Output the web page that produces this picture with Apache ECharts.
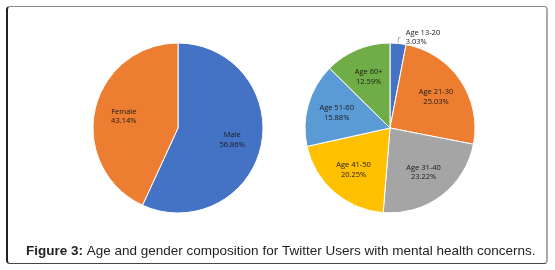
<!DOCTYPE html>
<html>
<head>
<meta charset="utf-8">
<script src="https://cdn.jsdelivr.net/npm/echarts@6/dist/echarts.min.js"></script>
<style>
  html, body { margin: 0; padding: 0; background: #fff; }
  #wrap { position: relative; width: 555px; height: 270px; }
  #frame {
    position: absolute; left: 6px; top: 6px; width: 538px; height: 256px;
    border-left: 2px solid #222; border-top: 1px solid #888;
    border-right: 2px solid #aaa; border-bottom: 1px solid #444;
    border-radius: 4px;
  }
  #chart { position: absolute; left: 0; top: 0; width: 555px; height: 270px; }
</style>
</head>
<body>
<div id="wrap">
  <div id="frame"></div>
  <div id="chart"></div>
</div>
<script>
  // gender split
  var genderNames = ['Male', 'Female'];
  var genderValues = [56.86, 43.14];
  var genderColors = ['#4472C4', '#ED7D31'];

  // age groups
  var ageNames = ['Age 13-20', 'Age 21-30', 'Age 31-40', 'Age 41-50', 'Age 51-60', 'Age 60+'];
  var ageValues = [3.03, 25.03, 23.22, 20.25, 15.88, 12.59];
  var ageColors = ['#4472C4', '#ED7D31', '#A5A5A5', '#FFC000', '#5B9BD5', '#70AD47'];

  var leftCenter = [178, 128];
  var rightCenter = [390, 128];
  var pieR = 85;

  // push inside labels a bit further out than ECharts' r/2
  function pushOut(center) {
    return function (p) {
      if (p.labelLinePoints) return {};
      var r = p.labelRect;
      var mx = r.x + r.width / 2, my = r.y + r.height / 2;
      return {
        x: center[0] + (mx - center[0]) * 1.22,
        y: center[1] + (my - center[1]) * 1.22
      };
    };
  }

  function buildData(names, values, colors) {
    return names.map(function (n, i) {
      return { name: n, value: values[i], itemStyle: { color: colors[i] } };
    });
  }

  var labelFont = {
    fontFamily: 'Open Sans, Liberation Sans, sans-serif',
    fontSize: 7.5,
    color: '#1a1a1a',
    lineHeight: 9.5
  };

  var ageData = buildData(ageNames, ageValues, ageColors);
  ageData[0].label = { position: 'outside' };
  ageData[0].labelLine = { show: true, length: 6, length2: 2, lineStyle: { color: '#999', width: 0.8 } };

  var chart = echarts.init(document.getElementById('chart'));
  chart.setOption({
    animation: false,
    title: {
      left: 21,
      top: 239,
      text: '{b|Figure 3:} Age and gender composition for Twitter Users with mental health concerns.',
      textStyle: {
        fontFamily: 'Liberation Sans, Arial, sans-serif',
        fontSize: 13.5,
        fontWeight: 'normal',
        color: '#222',
        rich: {
          b: { fontFamily: 'Liberation Sans, Arial, sans-serif', fontSize: 13.5, fontWeight: 'bold', color: '#222' }
        }
      }
    },
    series: [
      {
        type: 'pie',
        center: leftCenter,
        radius: pieR,
        startAngle: 90,
        clockwise: true,
        itemStyle: { borderColor: '#fff', borderWidth: 1 },
        label: Object.assign({ position: 'inside', formatter: '{b}\n{d}%' }, labelFont),
        labelLayout: pushOut(leftCenter),
        data: buildData(genderNames, genderValues, genderColors)
      },
      {
        type: 'pie',
        center: rightCenter,
        radius: pieR,
        startAngle: 90,
        clockwise: true,
        itemStyle: { borderColor: '#fff', borderWidth: 1 },
        label: Object.assign({
          position: 'inside',
          formatter: function (p) { return p.name + '\n' + p.value.toFixed(2) + '%'; }
        }, labelFont),
        labelLayout: pushOut(rightCenter),
        data: ageData
      }
    ]
  });
</script>
</body>
</html>
